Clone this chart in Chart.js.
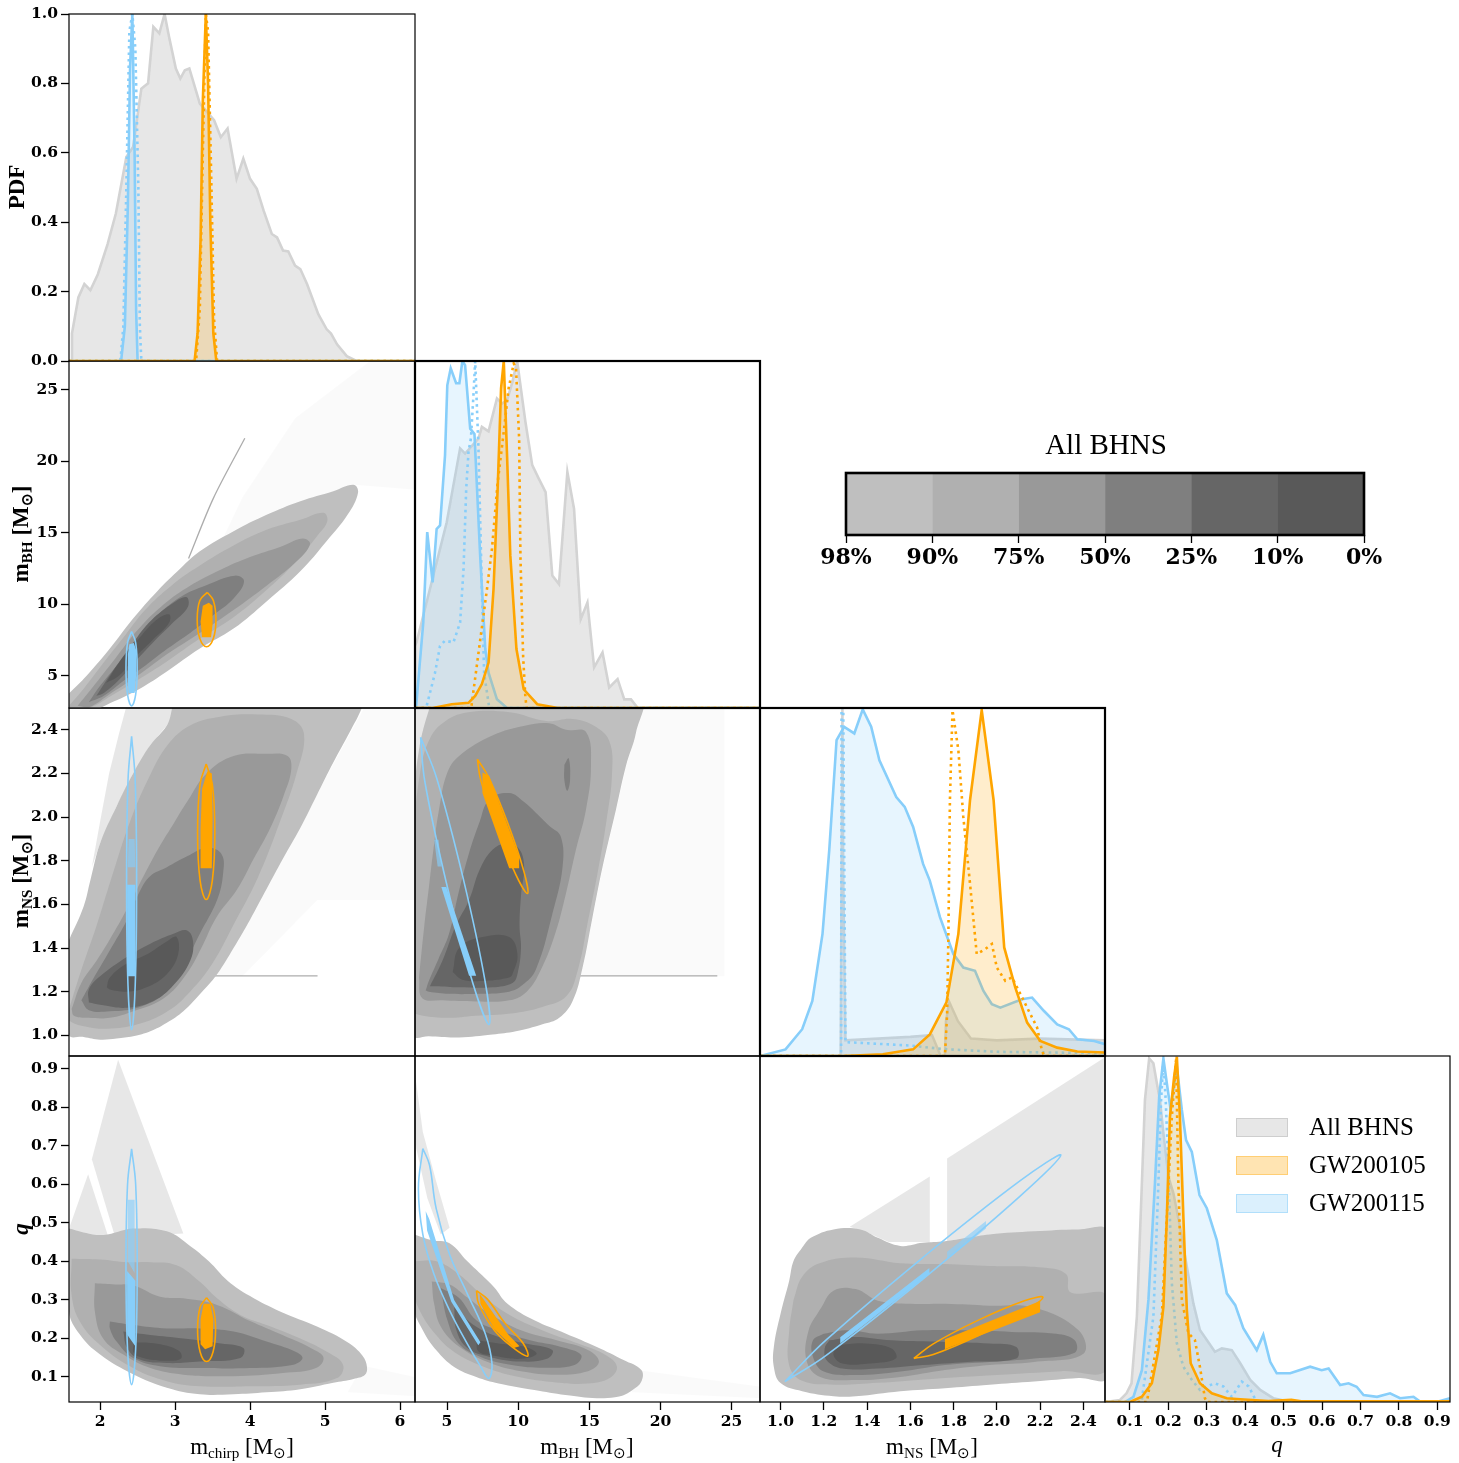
<!DOCTYPE html>
<html>
<head>
<meta charset="utf-8">
<title>BHNS corner plot</title>
<script src="https://cdn.jsdelivr.net/npm/chart.js@4.4.1/dist/chart.umd.min.js"></script>
<style>
  html, body { margin: 0; padding: 0; background: #fff; }
  #wrap { position: relative; width: 1459px; height: 1463px; overflow: hidden; }
  #wrap canvas { position: absolute; left: 0; top: 0; }
  .lab { position: absolute; transform: translate(-50%, -50%); font-family: "Liberation Serif", serif; font-size: 23px; color: #000; white-space: nowrap; line-height: 1; z-index: 5; }
  .ylab { transform: translate(-50%, -50%) rotate(-90deg); font-weight: bold; }
  .lab sub { font-size: 0.66em; vertical-align: -0.28em; line-height: 0; }
  .it { font-style: italic; }
  .leg { position: absolute; left: 1236px; z-index: 5; }
  .leg .sw { position: absolute; left: 0; top: -9px; width: 50px; height: 17px; border: 1px solid; }
  .leg .tx { position: absolute; left: 73px; top: -14px; font-family: "Liberation Serif", serif; font-size: 25px; white-space: nowrap; line-height: 1.1; }
</style>
</head>
<body>
<div id="wrap">
  <div class="lab ylab" style="left:16px;top:187px">PDF</div>
  <div class="lab ylab" style="left:20px;top:534px">m<sub>BH</sub> [M<sub>⊙</sub>]</div>
  <div class="lab ylab" style="left:20px;top:881px">m<sub>NS</sub> [M<sub>⊙</sub>]</div>
  <div class="lab ylab it" style="left:20px;top:1229px">q</div>
  <div class="lab" style="left:242px;top:1446px">m<sub>chirp</sub> [M<sub>⊙</sub>]</div>
  <div class="lab" style="left:587px;top:1446px">m<sub>BH</sub> [M<sub>⊙</sub>]</div>
  <div class="lab" style="left:932px;top:1446px">m<sub>NS</sub> [M<sub>⊙</sub>]</div>
  <div class="lab it" style="left:1277px;top:1444px">q</div>
  <div class="lab" style="left:1106px;top:444px;font-size:29px">All BHNS</div>
</div>
<script>
// ---- tick labels ----
const mchirpTicks = [2, 3, 4, 5, 6];
const mbhTicks = [5, 10, 15, 20, 25];
const mnsTicks = [1.0, 1.2, 1.4, 1.6, 1.8, 2.0, 2.2, 2.4];
const qTicks = [0.1, 0.2, 0.3, 0.4, 0.5, 0.6, 0.7, 0.8, 0.9];
const pdfTicks = [0.0, 0.2, 0.4, 0.6, 0.8, 1.0];
const cbarLabels = ['98%', '90%', '75%', '50%', '25%', '10%', '0%'];
const legendNames = ['All BHNS', 'GW200105', 'GW200115'];

// ---- 1D PDFs: chirp mass ----
const mcAllX = [1.615, 1.625, 1.71, 1.79, 1.87, 1.97, 2.10, 2.21, 2.35, 2.44, 2.55, 2.64, 2.71, 2.79, 2.86, 2.92, 3.01, 3.07, 3.13, 3.19, 3.33, 3.52, 3.61, 3.70, 3.82, 3.91, 4.00, 4.09, 4.18, 4.29, 4.36, 4.44, 4.51, 4.60, 4.67, 4.76, 4.91, 5.02, 5.08, 5.16, 5.29, 5.42, 6.2];
const mcAllY = [0.0, 0.08, 0.183, 0.222, 0.204, 0.25, 0.337, 0.425, 0.588, 0.617, 0.785, 0.80, 0.963, 0.944, 1.0, 0.934, 0.843, 0.814, 0.838, 0.843, 0.742, 0.694, 0.645, 0.67, 0.525, 0.583, 0.525, 0.496, 0.434, 0.366, 0.356, 0.318, 0.316, 0.275, 0.265, 0.222, 0.135, 0.092, 0.079, 0.048, 0.014, 0.0, 0.0];
const mc115X = [1.585, 2.28, 2.33, 2.37, 2.40, 2.43, 2.46, 2.48, 2.50, 6.2];
const mc115Y = [0, 0, 0.1, 0.45, 0.85, 1.0, 0.6, 0.15, 0, 0];
const mc115dX = [1.585, 2.27, 2.31, 2.35, 2.39, 2.43, 2.47, 2.51, 2.53, 2.55, 6.2];
const mc115dY = [0, 0, 0.1, 0.5, 0.95, 1.0, 0.9, 0.5, 0.1, 0, 0];
const mc105X = [1.585, 3.26, 3.30, 3.34, 3.37, 3.41, 3.44, 3.47, 3.51, 3.55, 6.2];
const mc105Y = [0, 0, 0.08, 0.35, 0.75, 1.0, 0.8, 0.4, 0.08, 0, 0];
const mc105dX = [1.585, 3.28, 3.33, 3.37, 3.41, 3.44, 3.48, 3.52, 3.56, 6.2];
const mc105dY = [0, 0, 0.15, 0.6, 1.0, 0.95, 0.55, 0.12, 0, 0];

// ---- 1D PDFs: black hole mass ----
const mbhAllX = [2.75, 2.86, 4.98, 5.92, 6.27, 7.21, 7.45, 7.92, 8.51, 8.87, 9.22, 9.6, 9.93, 10.51, 10.99, 11.45, 11.93, 12.40, 12.87, 13.46, 13.93, 14.40, 14.87, 15.34, 15.93, 16.40, 16.99, 17.46, 17.93, 18.41, 27.0];
const mbhAllY = [0.18, 0.189, 0.535, 0.748, 0.733, 0.776, 0.81, 0.797, 0.892, 0.877, 0.887, 0.94, 1.0, 0.825, 0.70, 0.661, 0.622, 0.382, 0.357, 0.68, 0.574, 0.256, 0.304, 0.117, 0.16, 0.059, 0.083, 0.025, 0.025, 0.0, 0.0];
const mbh115X = [2.75, 2.83, 3.33, 3.61, 3.99, 4.27, 4.51, 4.86, 5.02, 5.26, 5.64, 5.87, 6.08, 6.27, 6.63, 6.93, 7.33, 7.69, 7.92, 8.51, 9.22, 27.0];
const mbh115Y = [0.0, 0.005, 0.246, 0.507, 0.362, 0.516, 0.526, 0.728, 0.93, 0.979, 0.936, 0.936, 1.0, 0.988, 0.805, 0.79, 0.439, 0.17, 0.102, 0.025, 0.0, 0.0];
const mbh115dX = [2.75, 3.4, 3.57, 4.15, 4.51, 4.86, 5.45, 5.92, 6.16, 6.35, 6.51, 6.68, 6.86, 6.98, 7.21, 7.45, 7.61, 7.97, 27.0];
const mbh115dY = [0, 0, 0.006, 0.10, 0.179, 0.194, 0.189, 0.246, 0.40, 0.632, 0.738, 0.777, 0.902, 1.0, 0.748, 0.343, 0.10, 0.0, 0.0];
const mbh105X = [2.75, 4.0, 5.33, 6.51, 6.98, 7.45, 7.92, 8.27, 8.56, 8.80, 8.99, 9.22, 9.45, 9.88, 10.39, 11.34, 12.8, 27.0];
const mbh105Y = [0, 0, 0.011, 0.015, 0.035, 0.069, 0.131, 0.343, 0.632, 0.921, 1.0, 0.728, 0.439, 0.17, 0.054, 0.011, 0.0, 0.0];
const mbh105dX = [2.75, 6.7, 7.81, 8.16, 8.56, 9.0, 9.33, 9.69, 9.85, 10.07, 10.16, 10.35, 10.51, 10.6, 27.0];
const mbh105dY = [0, 0, 0.343, 0.459, 0.65, 0.80, 0.921, 0.993, 0.98, 0.776, 0.439, 0.15, 0.03, 0, 0];

// ---- 1D PDFs: neutron star mass ----
const mnsAllX = [0.905, 1.278, 1.282, 1.286, 1.29, 1.30, 1.45, 1.60, 1.70, 1.72, 1.74, 1.76, 1.765, 1.78, 1.82, 1.88, 2.0, 2.2, 2.5];
const mnsAllY = [0, 0, 0.5, 1.0, 0.5, 0.045, 0.05, 0.055, 0.06, 0.03, 0, 0, 0.1, 0.155, 0.10, 0.05, 0.045, 0.05, 0.045];
const mns115X = [0.905, 1.023, 1.10, 1.147, 1.194, 1.225, 1.259, 1.294, 1.341, 1.38, 1.419, 1.457, 1.535, 1.574, 1.613, 1.659, 1.69, 1.737, 1.799, 1.845, 1.899, 1.938, 1.977, 2.016, 2.116, 2.163, 2.217, 2.279, 2.333, 2.372, 2.45, 2.5];
const mns115Y = [0, 0.019, 0.077, 0.158, 0.351, 0.59, 0.908, 0.946, 0.927, 0.996, 0.946, 0.85, 0.744, 0.716, 0.658, 0.552, 0.504, 0.399, 0.293, 0.254, 0.245, 0.187, 0.149, 0.139, 0.163, 0.168, 0.13, 0.091, 0.077, 0.048, 0.043, 0.034];
const mns115dX = [0.905, 1.28, 1.282, 1.29, 1.30, 1.45, 1.60, 1.75, 2.0, 2.5];
const mns115dY = [0, 0, 1.0, 1.0, 0.04, 0.035, 0.03, 0.02, 0.012, 0.008];
const mns105X = [0.905, 1.29, 1.473, 1.613, 1.69, 1.767, 1.822, 1.876, 1.93, 1.985, 2.034, 2.085, 2.14, 2.201, 2.279, 2.372, 2.5];
const mns105Y = [0, 0, 0.005, 0.019, 0.062, 0.154, 0.351, 0.735, 0.994, 0.735, 0.312, 0.197, 0.096, 0.043, 0.024, 0.013, 0.01];
const mns105dX = [0.905, 1.76, 1.77, 1.776, 1.783, 1.795, 1.822, 1.845, 1.876, 1.907, 1.946, 1.977, 2.0, 2.039, 2.07, 2.109, 2.14, 2.186, 2.209, 2.22, 2.5];
const mns105dY = [0, 0, 0.12, 0.351, 0.735, 0.994, 0.879, 0.687, 0.495, 0.293, 0.307, 0.322, 0.254, 0.216, 0.226, 0.178, 0.139, 0.082, 0.014, 0, 0];

// ---- 1D PDFs: mass ratio ----
const qAllX = [0.035, 0.074, 0.091, 0.104, 0.118, 0.131, 0.139, 0.15, 0.161, 0.17, 0.178, 0.187, 0.2, 0.213, 0.23, 0.248, 0.265, 0.282, 0.3, 0.321, 0.339, 0.365, 0.387, 0.413, 0.439, 0.473, 0.51, 0.933];
const qAllY = [0, 0.006, 0.025, 0.054, 0.247, 0.632, 0.873, 0.993, 0.979, 0.921, 0.873, 0.777, 0.651, 0.603, 0.507, 0.391, 0.285, 0.208, 0.179, 0.145, 0.155, 0.15, 0.112, 0.064, 0.035, 0.011, 0.002, 0];
const q115X = [0.035, 0.087, 0.109, 0.131, 0.148, 0.165, 0.176, 0.187, 0.196, 0.206, 0.215, 0.223, 0.235, 0.246, 0.261, 0.281, 0.3, 0.326, 0.352, 0.374, 0.395, 0.43, 0.447, 0.465, 0.482, 0.517, 0.569, 0.599, 0.617, 0.647, 0.669, 0.69, 0.708, 0.743, 0.777, 0.803, 0.838, 0.855, 0.9, 0.933];
const q115Y = [0, 0, 0.015, 0.092, 0.295, 0.632, 0.882, 0.993, 0.921, 0.844, 0.921, 0.96, 0.844, 0.757, 0.723, 0.598, 0.56, 0.468, 0.314, 0.28, 0.213, 0.15, 0.194, 0.116, 0.083, 0.083, 0.102, 0.092, 0.097, 0.049, 0.054, 0.044, 0.02, 0.015, 0.025, 0.011, 0.015, 0.001, 0.001, 0.011];
const q115dX = [0.035, 0.13, 0.161, 0.174, 0.181, 0.187, 0.193, 0.2, 0.209, 0.222, 0.239, 0.261, 0.282, 0.3, 0.321, 0.343, 0.365, 0.391, 0.409, 0.43, 0.933];
const q115dY = [0, 0, 0.247, 0.632, 0.873, 0.99, 0.873, 0.68, 0.343, 0.17, 0.102, 0.064, 0.035, 0.045, 0.054, 0.045, 0.015, 0.059, 0.045, 0, 0];
const q105X = [0.035, 0.1, 0.131, 0.157, 0.174, 0.187, 0.196, 0.204, 0.215, 0.222, 0.23, 0.239, 0.248, 0.258, 0.282, 0.313, 0.352, 0.387, 0.46, 0.52, 0.546, 0.933];
const q105Y = [0, 0, 0.015, 0.054, 0.15, 0.275, 0.535, 0.824, 0.94, 0.998, 0.824, 0.535, 0.266, 0.112, 0.054, 0.025, 0.011, 0.008, 0.003, 0.006, 0.002, 0.002];
const q105dX = [0.035, 0.144, 0.183, 0.196, 0.209, 0.22, 0.226, 0.235, 0.252, 0.269, 0.282, 0.295, 0.3, 0.933];
const q105dY = [0, 0, 0.25, 0.535, 0.824, 0.99, 0.632, 0.295, 0.199, 0.179, 0.102, 0.011, 0, 0];

// ---- 2D: m_chirp vs m_BH ----
const mcMbhContours = [
  [[1.585,3.76],[1.82,5.0],[2.13,6.9],[2.44,9.0],[2.76,10.9],[3.07,12.5],[3.33,13.7],[3.78,15.1],[4.22,16.25],[4.67,17.2],[5.11,17.9],[5.38,18.35],[5.44,17.8],[5.3,16.25],[5.02,14.4],[4.67,12.3],[4.22,10.2],[3.78,8.3],[3.33,6.9],[2.89,5.3],[2.53,4.1],[2.18,3.2],[1.9,2.6],[1.585,2.6],[1.585,3.76]],
  [[1.585,2.9],[1.75,3.9],[2.0,5.6],[2.3,7.6],[2.6,9.6],[2.95,11.3],[3.33,12.7],[3.78,14.1],[4.22,15.2],[4.67,15.9],[4.98,16.4],[5.03,15.8],[4.9,14.8],[4.6,12.9],[4.22,11.0],[3.78,9.1],[3.33,7.6],[2.89,6.0],[2.5,4.7],[2.15,3.6],[1.85,2.75],[1.585,2.75],[1.585,2.9]],
  [[1.7,2.9],[1.9,4.2],[2.2,6.2],[2.5,8.2],[2.85,10.0],[3.2,11.3],[3.6,12.4],[4.0,13.3],[4.4,14.0],[4.7,14.6],[4.8,14.2],[4.6,12.9],[4.22,11.3],[3.78,9.6],[3.33,8.0],[2.89,6.5],[2.5,5.0],[2.15,3.8],[1.85,2.8],[1.7,2.9]],
  [[1.85,3.15],[2.0,4.3],[2.3,6.2],[2.55,7.9],[2.8,9.4],[3.1,10.6],[3.4,11.3],[3.8,12.0],[3.92,11.6],[3.78,10.4],[3.5,9.2],[3.2,8.0],[2.9,6.9],[2.6,5.7],[2.3,4.6],[2.05,3.6],[1.85,3.15]],
  [[1.95,3.6],[2.15,5.2],[2.4,7.0],[2.65,8.7],[2.95,10.0],[3.15,10.5],[3.17,9.8],[2.95,8.6],[2.7,7.3],[2.45,5.9],[2.25,4.7],[2.05,3.8],[1.95,3.6]],
  [[2.08,4.5],[2.25,5.9],[2.5,7.5],[2.75,8.9],[2.92,9.3],[2.92,8.7],[2.7,7.5],[2.45,6.2],[2.25,5.0],[2.08,4.5]]
];
const mcMbhLevel = [0, 1, 2, 3, 4, 5];
const mcMbhSpeckle = [];
const mcMbhFaint = [[[3.6,14.2],[3.9,17.5],[4.6,23.0],[5.6,27.0],[6.2,27.0],[6.2,18.0],[5.38,18.35],[4.22,16.25],[3.6,14.2]]];
const mcMbhStreak = [[[3.18,13.2],[3.51,17.4],[3.93,21.6]]];
const mcMbh115Ell = [[2.42,8.1],[2.474,7.32],[2.495,5.5],[2.474,3.68],[2.42,2.9],[2.366,3.68],[2.345,5.5],[2.366,7.32],[2.42,8.1]];
const mcMbh115Fill = [[[2.38,3.8],[2.46,3.8],[2.48,5.0],[2.48,6.8],[2.45,7.3],[2.39,7.2],[2.37,6.5],[2.37,4.5],[2.38,3.8]]];
const mcMbh105Ell = [[3.43,10.83],[3.51,10.26],[3.545,8.93],[3.51,7.6],[3.42,7.03],[3.33,7.6],[3.295,8.93],[3.33,10.26],[3.43,10.83]];
const mcMbh105Fill = [[[3.36,7.7],[3.48,7.7],[3.50,8.6],[3.50,9.9],[3.45,10.1],[3.37,9.9],[3.34,8.8],[3.36,7.7]]];

// ---- 2D: m_chirp vs m_NS ----
const mcMnsContours = [
  [[1.585,1.436],[1.585,1.003],[1.78,0.992],[2.0,0.98],[2.22,0.985],[2.44,0.995],[2.67,1.018],[2.89,1.057],[3.11,1.11],[3.33,1.188],[3.56,1.28],[3.78,1.40],[4.0,1.53],[4.22,1.67],[4.44,1.81],[4.67,1.95],[4.89,2.10],[5.11,2.25],[5.33,2.39],[5.49,2.50],[5.52,2.55],[3.08,2.55],[2.89,2.42],[2.67,2.33],[2.44,2.2],[2.22,2.05],[2.0,1.88],[1.87,1.71],[1.78,1.59],[1.585,1.436]],
  [[1.585,1.12],[1.75,1.30],[1.95,1.50],[2.15,1.72],[2.4,1.98],[2.65,2.18],[2.9,2.33],[3.2,2.42],[3.6,2.46],[4.1,2.47],[4.55,2.45],[4.72,2.38],[4.62,2.20],[4.4,1.98],[4.1,1.72],[3.8,1.52],[3.5,1.33],[3.2,1.20],[2.9,1.11],[2.5,1.05],[2.1,1.03],[1.8,1.04],[1.585,1.07],[1.585,1.12]],
  [[1.62,1.12],[1.75,1.24],[1.95,1.34],[2.13,1.44],[2.36,1.58],[2.58,1.73],[2.8,1.87],[2.98,1.97],[3.16,2.07],[3.42,2.2],[3.78,2.28],[4.22,2.29],[4.5,2.28],[4.55,2.22],[4.45,2.1],[4.27,1.95],[4.05,1.81],[3.83,1.67],[3.55,1.54],[3.35,1.40],[3.15,1.28],[2.85,1.17],[2.44,1.11],[2.13,1.08],[1.85,1.08],[1.65,1.09],[1.62,1.12]],
  [[1.75,1.16],[1.91,1.26],[2.13,1.39],[2.36,1.53],[2.53,1.66],[2.67,1.73],[2.89,1.77],[3.16,1.82],[3.42,1.86],[3.62,1.83],[3.64,1.74],[3.56,1.62],[3.33,1.465],[3.1,1.31],[2.89,1.2],[2.53,1.13],[2.13,1.11],[1.85,1.115],[1.75,1.16]],
  [[1.85,1.15],[2.0,1.14],[2.36,1.126],[2.71,1.157],[2.98,1.23],[3.2,1.34],[3.24,1.43],[3.16,1.48],[2.98,1.465],[2.67,1.42],[2.36,1.36],[2.0,1.27],[1.85,1.21],[1.85,1.15]],
  [[2.09,1.22],[2.13,1.265],[2.36,1.33],[2.62,1.37],[2.89,1.43],[3.02,1.45],[3.04,1.37],[2.89,1.28],[2.62,1.22],[2.36,1.20],[2.13,1.21],[2.09,1.22]]
];
const mcMnsLevel = [0, 1, 2, 3, 4, 5];
const mcMnsSpeckle = [[[1.89,1.77],[2.0,1.98],[2.12,2.2],[2.25,2.38],[2.36,2.52],[3.08,2.52],[2.89,2.42],[2.67,2.33],[2.44,2.2],[2.22,2.05],[2.0,1.88],[1.89,1.77]]];
const mcMnsFaint = [[[4.4,1.8],[5.52,2.5],[6.2,2.5],[6.2,1.62],[4.9,1.62],[3.9,1.27],[3.3,1.27],[4.4,1.8]]];
const mcMnsStreak = [[[3.3,1.272],[4.9,1.272]]];
const mcMns115Ell = [[2.42,2.37],[2.468,2.168],[2.487,1.698],[2.468,1.228],[2.42,1.026],[2.372,1.228],[2.353,1.698],[2.372,2.168],[2.42,2.37]];
const mcMns115Fill = [[[2.36,1.27],[2.47,1.27],[2.47,1.69],[2.36,1.69],[2.36,1.27]], [[2.37,1.77],[2.47,1.77],[2.46,1.9],[2.38,1.9],[2.37,1.77]]];
const mcMns105Ell = [[3.415,2.243],[3.497,2.15],[3.53,1.93],[3.497,1.71],[3.415,1.622],[3.333,1.71],[3.30,1.93],[3.333,2.15],[3.415,2.243]];
const mcMns105Fill = [[[3.34,1.765],[3.49,1.765],[3.50,2.0],[3.49,2.2],[3.43,2.21],[3.36,2.13],[3.34,1.95],[3.34,1.765]]];

// ---- 2D: m_BH vs m_NS ----
const mbhMnsContours = [
  [[3.97,2.55],[3.03,2.31],[2.68,2.02],[2.68,1.0],[3.73,0.995],[5.85,0.99],[8.19,1.003],[9.84,1.018],[11.71,1.05],[12.89,1.08],[13.83,1.157],[14.53,1.311],[15.23,1.542],[15.94,1.773],[16.88,2.035],[17.58,2.235],[18.29,2.389],[18.52,2.55],[3.97,2.55]],
  [[2.68,1.10],[2.68,1.9],[3.1,2.2],[3.8,2.36],[4.9,2.44],[6.5,2.48],[9.4,2.48],[12.0,2.44],[13.8,2.45],[15.3,2.42],[16.4,2.35],[16.6,2.2],[16.2,1.98],[15.6,1.75],[14.9,1.52],[14.2,1.30],[13.4,1.18],[11.7,1.13],[9.5,1.10],[7.0,1.09],[5.0,1.08],[3.3,1.09],[2.68,1.10]],
  [[3.03,1.265],[3.4,1.5],[3.73,1.68],[4.1,1.88],[4.44,2.035],[5.0,2.2],[5.85,2.28],[8.19,2.374],[10.54,2.42],[12.18,2.43],[13.36,2.40],[14.77,2.39],[15.12,2.235],[14.77,2.035],[14.06,1.85],[13.36,1.65],[12.6,1.465],[11.6,1.30],[10.6,1.2],[9.37,1.16],[7.02,1.155],[4.67,1.16],[3.26,1.17],[3.03,1.265]],
  [[3.5,1.205],[3.73,1.25],[4.4,1.35],[5.14,1.465],[5.8,1.65],[6.55,1.835],[7.3,1.98],[7.96,2.08],[9.37,2.11],[10.4,2.07],[11.24,2.02],[12.18,1.96],[13.0,1.91],[13.12,1.77],[12.42,1.56],[11.24,1.30],[10.3,1.23],[9.37,1.20],[7.02,1.19],[5.14,1.19],[3.73,1.20],[3.5,1.205]],
  [[13.25,2.24],[13.55,2.27],[13.65,2.17],[13.45,2.12],[13.25,2.17],[13.25,2.24]],
  [[3.8,1.225],[4.67,1.34],[5.6,1.5],[6.55,1.62],[7.3,1.76],[8.2,1.85],[9.13,1.88],[10.0,1.86],[10.42,1.78],[10.2,1.64],[10.1,1.5],[10.2,1.40],[9.95,1.28],[9.6,1.24],[8.19,1.22],[5.85,1.22],[4.2,1.225],[3.8,1.225]],
  [[5.4,1.29],[5.85,1.40],[7.49,1.45],[9.37,1.45],[9.95,1.37],[9.6,1.28],[9.37,1.265],[7.72,1.25],[6.08,1.255],[5.4,1.29]]
];
const mbhMnsLevel = [0, 1, 2, 3, 3, 4, 5];
const mbhMnsSpeckle = [[[2.68,2.55],[3.97,2.55],[3.03,2.31],[2.68,2.02],[2.68,2.55]]];
const mbhMnsFaint = [[[18.52,2.55],[24.5,2.55],[24.5,1.27],[13.9,1.27],[14.53,1.311],[15.23,1.542],[15.94,1.773],[16.88,2.035],[17.58,2.235],[18.29,2.389],[18.52,2.55]]];
const mbhMnsStreak = [[[13.9,1.272],[24.0,1.272]]];
const mbhMns115Ell = [[3.146,2.366],[4.291,2.175],[6.146,1.717],[7.66,1.254],[7.958,1.049],[6.812,1.24],[4.958,1.698],[3.444,2.162],[3.146,2.366]];
const mbhMns115Fill = [[[4.6,1.68],[4.95,1.68],[7.05,1.273],[6.55,1.273],[4.6,1.68]], [[4.1,1.896],[4.4,1.896],[4.62,1.773],[4.34,1.773],[4.1,1.896]]];
const mbhMns105Ell = [[7.136,2.266],[7.948,2.18],[9.293,1.968],[10.413,1.749],[10.657,1.65],[9.845,1.735],[8.5,1.948],[7.38,2.167],[7.136,2.266]];
const mbhMns105Fill = [[[7.49,2.204],[7.96,2.19],[10.07,1.82],[10.07,1.765],[9.37,1.765],[7.49,2.11],[7.49,2.204]]];

// ---- 2D: m_chirp vs q ----
const mcQContours = [
  [[1.585,0.485],[1.9,0.47],[2.1,0.47],[2.44,0.485],[2.89,0.478],[3.2,0.44],[3.45,0.40],[3.7,0.35],[4.0,0.31],[4.4,0.27],[4.9,0.23],[5.3,0.19],[5.5,0.155],[5.56,0.125],[5.53,0.105],[5.38,0.095],[5.11,0.085],[4.67,0.068],[4.22,0.06],[3.78,0.055],[3.33,0.055],[2.89,0.072],[2.44,0.107],[2.0,0.158],[1.73,0.21],[1.585,0.27],[1.585,0.485]],
  [[1.62,0.407],[2.0,0.405],[2.36,0.398],[2.67,0.398],[3.02,0.39],[3.33,0.347],[3.56,0.304],[3.87,0.261],[4.22,0.235],[4.67,0.2],[5.02,0.166],[5.24,0.132],[5.16,0.097],[4.67,0.08],[4.0,0.076],[3.33,0.076],[2.89,0.089],[2.44,0.123],[2.0,0.183],[1.73,0.244],[1.62,0.312],[1.62,0.407]],
  [[1.93,0.343],[2.2,0.34],[2.44,0.338],[2.8,0.308],[3.11,0.304],[3.56,0.287],[4.0,0.245],[4.44,0.208],[4.84,0.172],[4.98,0.15],[4.88,0.123],[4.44,0.11],[3.78,0.102],[3.11,0.106],[2.67,0.123],[2.31,0.158],[2.04,0.2],[1.93,0.27],[1.93,0.343]],
  [[2.13,0.244],[2.44,0.235],[2.89,0.226],[3.33,0.226],[3.78,0.218],[4.22,0.192],[4.6,0.166],[4.7,0.149],[4.58,0.132],[4.0,0.123],[3.33,0.123],[2.8,0.128],[2.44,0.149],[2.22,0.192],[2.13,0.226],[2.13,0.244]],
  [[2.31,0.218],[2.67,0.209],[3.11,0.2],[3.56,0.188],[3.91,0.175],[3.87,0.149],[3.33,0.14],[2.89,0.136],[2.53,0.145],[2.36,0.175],[2.31,0.218]],
  [[2.45,0.19],[2.76,0.186],[3.05,0.168],[3.08,0.148],[2.89,0.142],[2.6,0.148],[2.45,0.162],[2.45,0.19]]
];
const mcQLevel = [0, 1, 2, 3, 4, 5];
const mcQSpeckle = [[[2.24,0.923],[3.11,0.472],[2.2,0.463],[1.89,0.665],[2.24,0.923]], [[1.6,0.493],[1.84,0.626],[2.11,0.463],[1.6,0.47],[1.6,0.493]]];
const mcQFaint = [[[5.5,0.13],[6.2,0.1],[6.2,0.05],[5.3,0.06],[5.5,0.13]]];
const mcQStreak = [];
const mcQ115Ell = [[2.42,0.692],[2.474,0.6],[2.495,0.386],[2.474,0.172],[2.42,0.08],[2.366,0.172],[2.345,0.386],[2.366,0.6],[2.42,0.692]];
const mcQ115Fill = [[[2.36,0.21],[2.47,0.18],[2.47,0.35],[2.36,0.375],[2.36,0.21]], [[2.37,0.40],[2.46,0.37],[2.46,0.56],[2.37,0.56],[2.37,0.40]]];
const mcQ105Ell = [[3.42,0.306],[3.506,0.281],[3.54,0.223],[3.506,0.165],[3.42,0.14],[3.334,0.165],[3.30,0.223],[3.334,0.281],[3.42,0.306]];
const mcQ105Fill = [[[3.34,0.185],[3.40,0.172],[3.50,0.18],[3.51,0.25],[3.47,0.29],[3.38,0.29],[3.34,0.25],[3.34,0.185]]];

// ---- 2D: m_BH vs q ----
const mbhQContours = [
  [[2.67,0.47],[3.93,0.455],[5.18,0.447],[6.43,0.4],[7.37,0.367],[8.31,0.333],[9.25,0.29],[11.14,0.247],[13.33,0.213],[15.53,0.178],[17.41,0.144],[18.66,0.118],[18.66,0.088],[18.04,0.066],[17.1,0.049],[15.53,0.045],[13.33,0.053],[11.14,0.066],[8.63,0.083],[7.06,0.1],[5.5,0.126],[4.25,0.169],[3.3,0.221],[2.67,0.281],[2.67,0.47]],
  [[2.67,0.4],[4.25,0.4],[5.81,0.367],[7.37,0.316],[9.25,0.264],[11.77,0.22],[14.27,0.186],[16.15,0.157],[16.94,0.127],[16.47,0.098],[14.9,0.083],[12.4,0.087],[9.56,0.104],[7.37,0.13],[5.5,0.165],[4.25,0.208],[3.14,0.268],[2.67,0.32],[2.67,0.4]],
  [[3.93,0.348],[5.18,0.34],[6.43,0.306],[8.0,0.264],[10.2,0.221],[12.71,0.195],[14.9,0.17],[15.68,0.14],[14.9,0.115],[12.71,0.106],[10.2,0.115],[8.0,0.137],[5.81,0.18],[4.56,0.231],[4.09,0.291],[3.93,0.348]],
  [[4.56,0.331],[5.81,0.306],[7.06,0.247],[8.63,0.221],[10.83,0.195],[13.02,0.178],[14.43,0.157],[13.96,0.131],[11.77,0.124],[9.56,0.131],[7.37,0.152],[5.81,0.187],[5.03,0.247],[4.56,0.331]],
  [[5.5,0.281],[7.06,0.23],[8.63,0.204],[10.52,0.187],[12.4,0.17],[12.08,0.148],[10.2,0.14],[8.0,0.152],[6.43,0.175],[5.66,0.221],[5.5,0.281]],
  [[7.06,0.195],[8.63,0.187],[10.52,0.178],[11.3,0.16],[10.2,0.147],[8.31,0.155],[7.22,0.166],[7.06,0.195]]
];
const mbhQLevel = [0, 1, 2, 3, 4, 5];
const mbhQSpeckle = [[[2.67,0.908],[3.3,0.736],[4.24,0.607],[5.18,0.487],[4.56,0.47],[3.62,0.564],[2.84,0.693],[2.67,0.8],[2.67,0.908]]];
const mbhQFaint = [[[18.0,0.12],[27.0,0.075],[27.0,0.045],[18.0,0.06],[18.0,0.12]]];
const mbhQStreak = [];
const mbhQ115Ell = [[3.30,0.693],[3.77,0.65],[4.24,0.537],[5.18,0.418],[6.44,0.315],[7.69,0.212],[8.16,0.135],[7.94,0.096],[7.38,0.126],[6.44,0.185],[5.18,0.273],[4.08,0.367],[3.30,0.47],[2.99,0.589],[3.30,0.693]];
const mbhQ115Fill = [[[3.5,0.53],[3.75,0.51],[5.5,0.30],[7.35,0.19],[7.2,0.182],[5.3,0.295],[3.6,0.48],[3.5,0.53]]];
const mbhQ105Ell = [[7.07,0.324],[7.84,0.302],[9.1,0.238],[10.36,0.187],[10.66,0.154],[9.57,0.178],[8.33,0.221],[7.22,0.29],[7.07,0.324]];
const mbhQ105Fill = [[[7.3,0.315],[7.6,0.30],[9.3,0.21],[10.1,0.18],[9.7,0.175],[8.3,0.225],[7.35,0.29],[7.3,0.315]]];

// ---- 2D: m_NS vs q ----
const mnsQContours = [
  [[1.10,0.436],[1.14,0.461],[1.245,0.483],[1.369,0.483],[1.45,0.461],[1.554,0.44],[1.657,0.448],[1.76,0.452],[1.863,0.461],[1.966,0.47],[2.172,0.478],[2.378,0.483],[2.51,0.478],[2.51,0.1],[2.378,0.097],[2.172,0.088],[1.966,0.08],[1.76,0.071],[1.554,0.063],[1.348,0.05],[1.245,0.05],[1.10,0.063],[1.0,0.084],[0.969,0.126],[0.969,0.178],[1.0,0.264],[1.04,0.35],[1.06,0.401],[1.10,0.436]],
  [[1.06,0.30],[1.10,0.36],[1.18,0.395],[1.348,0.41],[1.554,0.395],[1.76,0.393],[1.966,0.388],[2.21,0.384],[2.32,0.367],[2.34,0.32],[2.51,0.31],[2.51,0.12],[2.3,0.115],[2.0,0.105],[1.7,0.095],[1.45,0.085],[1.25,0.08],[1.1,0.09],[1.04,0.13],[1.04,0.22],[1.06,0.30]],
  [[1.18,0.273],[1.245,0.324],[1.348,0.328],[1.45,0.298],[1.6,0.29],[1.76,0.29],[1.966,0.285],[2.172,0.28],[2.378,0.221],[2.4,0.16],[2.172,0.139],[1.966,0.131],[1.76,0.118],[1.554,0.1],[1.348,0.092],[1.183,0.1],[1.12,0.143],[1.13,0.221],[1.18,0.273]],
  [[1.2,0.212],[1.31,0.221],[1.45,0.212],[1.657,0.221],[1.863,0.221],[2.069,0.217],[2.275,0.212],[2.36,0.195],[2.36,0.163],[2.172,0.148],[1.966,0.139],[1.76,0.131],[1.554,0.114],[1.348,0.105],[1.2,0.114],[1.15,0.152],[1.15,0.195],[1.2,0.212]],
  [[1.225,0.195],[1.348,0.204],[1.513,0.195],[1.76,0.191],[1.966,0.187],[2.09,0.178],[2.09,0.148],[1.863,0.139],[1.657,0.131],[1.45,0.122],[1.286,0.122],[1.214,0.143],[1.204,0.174],[1.225,0.195]],
  [[1.266,0.183],[1.39,0.187],[1.513,0.174],[1.533,0.148],[1.41,0.135],[1.286,0.135],[1.245,0.157],[1.266,0.183]]
];
const mnsQLevel = [0, 1, 2, 3, 4, 5];
const mnsQSpeckle = [[[1.32,0.49],[1.69,0.62],[1.69,0.45],[1.5,0.45],[1.40,0.475],[1.32,0.49]], [[1.77,0.667],[2.5,0.93],[2.5,0.48],[1.77,0.452],[1.77,0.667]]];
const mnsQFaint = [];
const mnsQStreak = [];
const mnsQ115Ell = [[1.02,0.088],[1.211,0.196],[1.658,0.41],[2.105,0.608],[2.296,0.676],[2.105,0.568],[1.658,0.354],[1.211,0.156],[1.02,0.088]];
const mnsQ115Fill = [[[1.276,0.187],[1.276,0.203],[1.688,0.383],[1.688,0.367],[1.276,0.187]], [[1.77,0.405],[1.77,0.425],[1.95,0.505],[1.95,0.485],[1.77,0.405]]];
const mnsQ105Ell = [[1.616,0.148],[1.706,0.186],[1.915,0.2475],[2.124,0.297],[2.213,0.307],[2.124,0.269],[1.915,0.2075],[1.706,0.158],[1.616,0.148]];
const mnsQ105Fill = [[[1.76,0.172],[1.76,0.198],[2.20,0.297],[2.20,0.268],[1.76,0.172]]];

// ---- styles & layout ----
const W = 1459, H = 1463;
const colX = [69, 415, 760, 1105, 1450];
const rowY = [14, 361, 708, 1056, 1402];
const levelColors = ['#bfbfbf', '#b0b0b0', '#999999', '#7f7f7f', '#666666', '#595959'];
const BLUE = '#87cefa', ORANGE = '#ffa500', GREY = '#d3d3d3';
const tickFont = { family: "'DejaVu Serif', serif", weight: 'bold', size: 15.5 };

const axes = {
  mchirp: { min: 1.585, max: 6.2, ticks: mchirpTicks, dec: 0 },
  mbh: { min: 2.75, max: 27.0, ticks: mbhTicks, dec: 0 },
  mns: { min: 0.905, max: 2.5, ticks: mnsTicks, dec: 1 },
  q: { min: 0.035, max: 0.933, ticks: qTicks, dec: 1 },
  pdf: { min: 0, max: 1, ticks: pdfTicks, dec: 1 }
};

Chart.register({
  id: 'frame',
  defaults: { width: 1.2 },
  afterDatasetsDraw(chart, args, opts) {
    const a = chart.chartArea, ctx = chart.ctx;
    ctx.save();
    ctx.lineWidth = opts.width;
    ctx.strokeStyle = '#000';
    ctx.strokeRect(a.left, a.top, a.right - a.left, a.bottom - a.top);
    ctx.restore();
  }
});

const wrap = document.getElementById('wrap');
function addCanvas() {
  const cv = document.createElement('canvas');
  cv.width = W; cv.height = H;
  cv.style.width = W + 'px'; cv.style.height = H + 'px';
  wrap.insertBefore(cv, wrap.firstChild);
  return cv;
}

function axisOpts(ax, show, pos) {
  return {
    type: 'linear', position: pos, min: ax.min, max: ax.max, display: show,
    grid: { display: true, drawOnChartArea: false, drawTicks: true, tickLength: 8, tickWidth: 1.3, tickColor: '#000', color: '#000' },
    border: { display: false },
    ticks: { color: '#000', font: tickFont, padding: 3, autoSkip: false, maxRotation: 0, minRotation: 0,
             callback: v => Number(v).toFixed(ax.dec) },
    afterBuildTicks: s => { s.ticks = ax.ticks.map(v => ({ value: v })); },
    afterFit: s => {
      if (pos === 'left') s.width = show ? 69 : 0; else s.height = show ? 61 : 0;
      s.paddingLeft = 0; s.paddingRight = 0; s.paddingTop = 0; s.paddingBottom = 0;
    }
  };
}

const toPts = (xs, ys) => xs.map((x, i) => ({ x: x, y: ys[i] }));
const polyPts = p => p.map(q => ({ x: q[0], y: q[1] }));

function pdfLine(xs, ys, color, fillColor, order) {
  return { data: toPts(xs, ys), borderColor: color, borderWidth: 2.6, backgroundColor: fillColor,
           fill: fillColor ? 'origin' : false, tension: 0, order: order, pointRadius: 0 };
}
function pdfDots(xs, ys, color, order) {
  return { data: toPts(xs, ys), borderColor: color, borderWidth: 2.6, borderDash: [2.6, 3.9],
           fill: false, tension: 0, order: order, pointRadius: 0 };
}
function shape(p, color, order, tension) {
  return { data: polyPts(p), fill: 'shape', backgroundColor: color, borderColor: 'rgba(0,0,0,0)',
           borderWidth: 0, tension: tension, order: order, pointRadius: 0 };
}
function outline(p, color, width, order, tension) {
  return { data: polyPts(p), fill: false, borderColor: color, borderWidth: width, tension: tension, order: order, pointRadius: 0 };
}

function panel(r, c, xKey, yKey, datasets, frameW) {
  const showY = c === 0, showX = r === 3;
  new Chart(addCanvas(), {
    type: 'line',
    data: { datasets: datasets },
    options: {
      responsive: false, animation: false, events: [],
      layout: { padding: { left: colX[c] - (showY ? 69 : 0), right: W - colX[c + 1], top: rowY[r], bottom: H - rowY[r + 1] - (showX ? 61 : 0) } },
      plugins: { legend: { display: false }, tooltip: { enabled: false }, frame: { width: frameW } },
      elements: { point: { radius: 0 } },
      scales: { x: axisOpts(axes[xKey], showX, 'bottom'), y: axisOpts(axes[yKey], showY, 'left') }
    }
  });
}

function diagSets(allX, allY, bX, bY, bdX, bdY, oX, oY, odX, odY) {
  return [
    pdfLine(allX, allY, GREY, 'rgba(211,211,211,0.55)', 10),
    pdfLine(bX, bY, BLUE, 'rgba(135,206,250,0.2)', 9),
    pdfDots(bdX, bdY, BLUE, 8),
    pdfLine(oX, oY, ORANGE, 'rgba(255,165,0,0.2)', 7),
    pdfDots(odX, odY, ORANGE, 6)
  ];
}

function pairSets(cont, lev, speckle, faint, streak, e115, f115, e105, f105) {
  const sets = [];
  faint.forEach(p => sets.push(shape(p, 'rgba(0,0,0,0.018)', 50, 0)));
  speckle.forEach(p => sets.push(shape(p, 'rgba(60,60,60,0.12)', 45, 0)));
  streak.forEach(p => sets.push(outline(p, 'rgba(70,70,70,0.45)', 1.3, 44, 0.3)));
  cont.forEach((p, i) => sets.push(shape(p, levelColors[lev[i]], 40 - lev[i], 0.4)));
  f115.forEach((p, i) => sets.push(shape(p, i === 0 ? BLUE : 'rgba(135,206,250,0.65)', 21, 0)));
  f105.forEach(p => sets.push(shape(p, ORANGE, 20, 0)));
  sets.push(outline(e115, BLUE, 1.6, 11, 0.4));
  sets.push(outline(e105, ORANGE, 1.6, 10, 0.4));
  return sets;
}

// diagonal
panel(0, 0, 'mchirp', 'pdf', diagSets(mcAllX, mcAllY, mc115X, mc115Y, mc115dX, mc115dY, mc105X, mc105Y, mc105dX, mc105dY), 1.2);
panel(1, 1, 'mbh', 'pdf', diagSets(mbhAllX, mbhAllY, mbh115X, mbh115Y, mbh115dX, mbh115dY, mbh105X, mbh105Y, mbh105dX, mbh105dY), 2.2);
panel(2, 2, 'mns', 'pdf', diagSets(mnsAllX, mnsAllY, mns115X, mns115Y, mns115dX, mns115dY, mns105X, mns105Y, mns105dX, mns105dY), 2.2);
panel(3, 3, 'q', 'pdf', diagSets(qAllX, qAllY, q115X, q115Y, q115dX, q115dY, q105X, q105Y, q105dX, q105dY), 1.2);

// off-diagonal
panel(1, 0, 'mchirp', 'mbh', pairSets(mcMbhContours, mcMbhLevel, mcMbhSpeckle, mcMbhFaint, mcMbhStreak, mcMbh115Ell, mcMbh115Fill, mcMbh105Ell, mcMbh105Fill), 1.2);
panel(2, 0, 'mchirp', 'mns', pairSets(mcMnsContours, mcMnsLevel, mcMnsSpeckle, mcMnsFaint, mcMnsStreak, mcMns115Ell, mcMns115Fill, mcMns105Ell, mcMns105Fill), 1.2);
panel(2, 1, 'mbh', 'mns', pairSets(mbhMnsContours, mbhMnsLevel, mbhMnsSpeckle, mbhMnsFaint, mbhMnsStreak, mbhMns115Ell, mbhMns115Fill, mbhMns105Ell, mbhMns105Fill), 1.2);
panel(3, 0, 'mchirp', 'q', pairSets(mcQContours, mcQLevel, mcQSpeckle, mcQFaint, mcQStreak, mcQ115Ell, mcQ115Fill, mcQ105Ell, mcQ105Fill), 1.2);
panel(3, 1, 'mbh', 'q', pairSets(mbhQContours, mbhQLevel, mbhQSpeckle, mbhQFaint, mbhQStreak, mbhQ115Ell, mbhQ115Fill, mbhQ105Ell, mbhQ105Fill), 1.2);
panel(3, 2, 'mns', 'q', pairSets(mnsQContours, mnsQLevel, mnsQSpeckle, mnsQFaint, mnsQStreak, mnsQ115Ell, mnsQ115Fill, mnsQ105Ell, mnsQ105Fill), 1.2);

// colour bar for the contour levels
new Chart(addCanvas(), {
  type: 'bar',
  data: {
    labels: [''],
    datasets: levelColors.map(col => ({ data: [1], backgroundColor: col, borderWidth: 0, barPercentage: 1, categoryPercentage: 1 }))
  },
  options: {
    indexAxis: 'y', responsive: false, animation: false, events: [],
    layout: { padding: { left: 846, right: W - 1364, top: 473, bottom: H - 535 - 40 } },
    plugins: { legend: { display: false }, tooltip: { enabled: false }, frame: { width: 2.6 } },
    scales: {
      x: {
        type: 'linear', stacked: true, min: 0, max: 6, position: 'bottom',
        grid: { display: true, drawOnChartArea: false, drawTicks: true, tickLength: 8, tickWidth: 1.3, tickColor: '#000' },
        border: { display: false },
        ticks: { color: '#000', font: { family: "'DejaVu Serif', serif", weight: 'bold', size: 22 }, padding: 2, autoSkip: false, maxRotation: 0,
                 callback: (v, i) => cbarLabels[i] },
        afterBuildTicks: s => { s.ticks = cbarLabels.map((l, i) => ({ value: i })); },
        afterFit: s => { s.height = 40; s.paddingLeft = 0; s.paddingRight = 0; }
      },
      y: { stacked: true, display: false }
    }
  }
});

// legend
const legendFill = ['rgba(211,211,211,0.55)', 'rgba(255,165,0,0.3)', 'rgba(135,206,250,0.3)'];
const legendEdge = ['rgba(190,190,190,0.6)', 'rgba(255,165,0,0.35)', 'rgba(135,206,250,0.5)'];
const legendTop = [1127, 1165, 1203];
legendNames.forEach((name, i) => {
  const row = document.createElement('div');
  row.className = 'leg';
  row.style.top = legendTop[i] + 'px';
  row.innerHTML = '<span class="sw" style="background:' + legendFill[i] + ';border-color:' + legendEdge[i] + '"></span><span class="tx">' + name + '</span>';
  wrap.appendChild(row);
});
</script>
</body>
</html>
